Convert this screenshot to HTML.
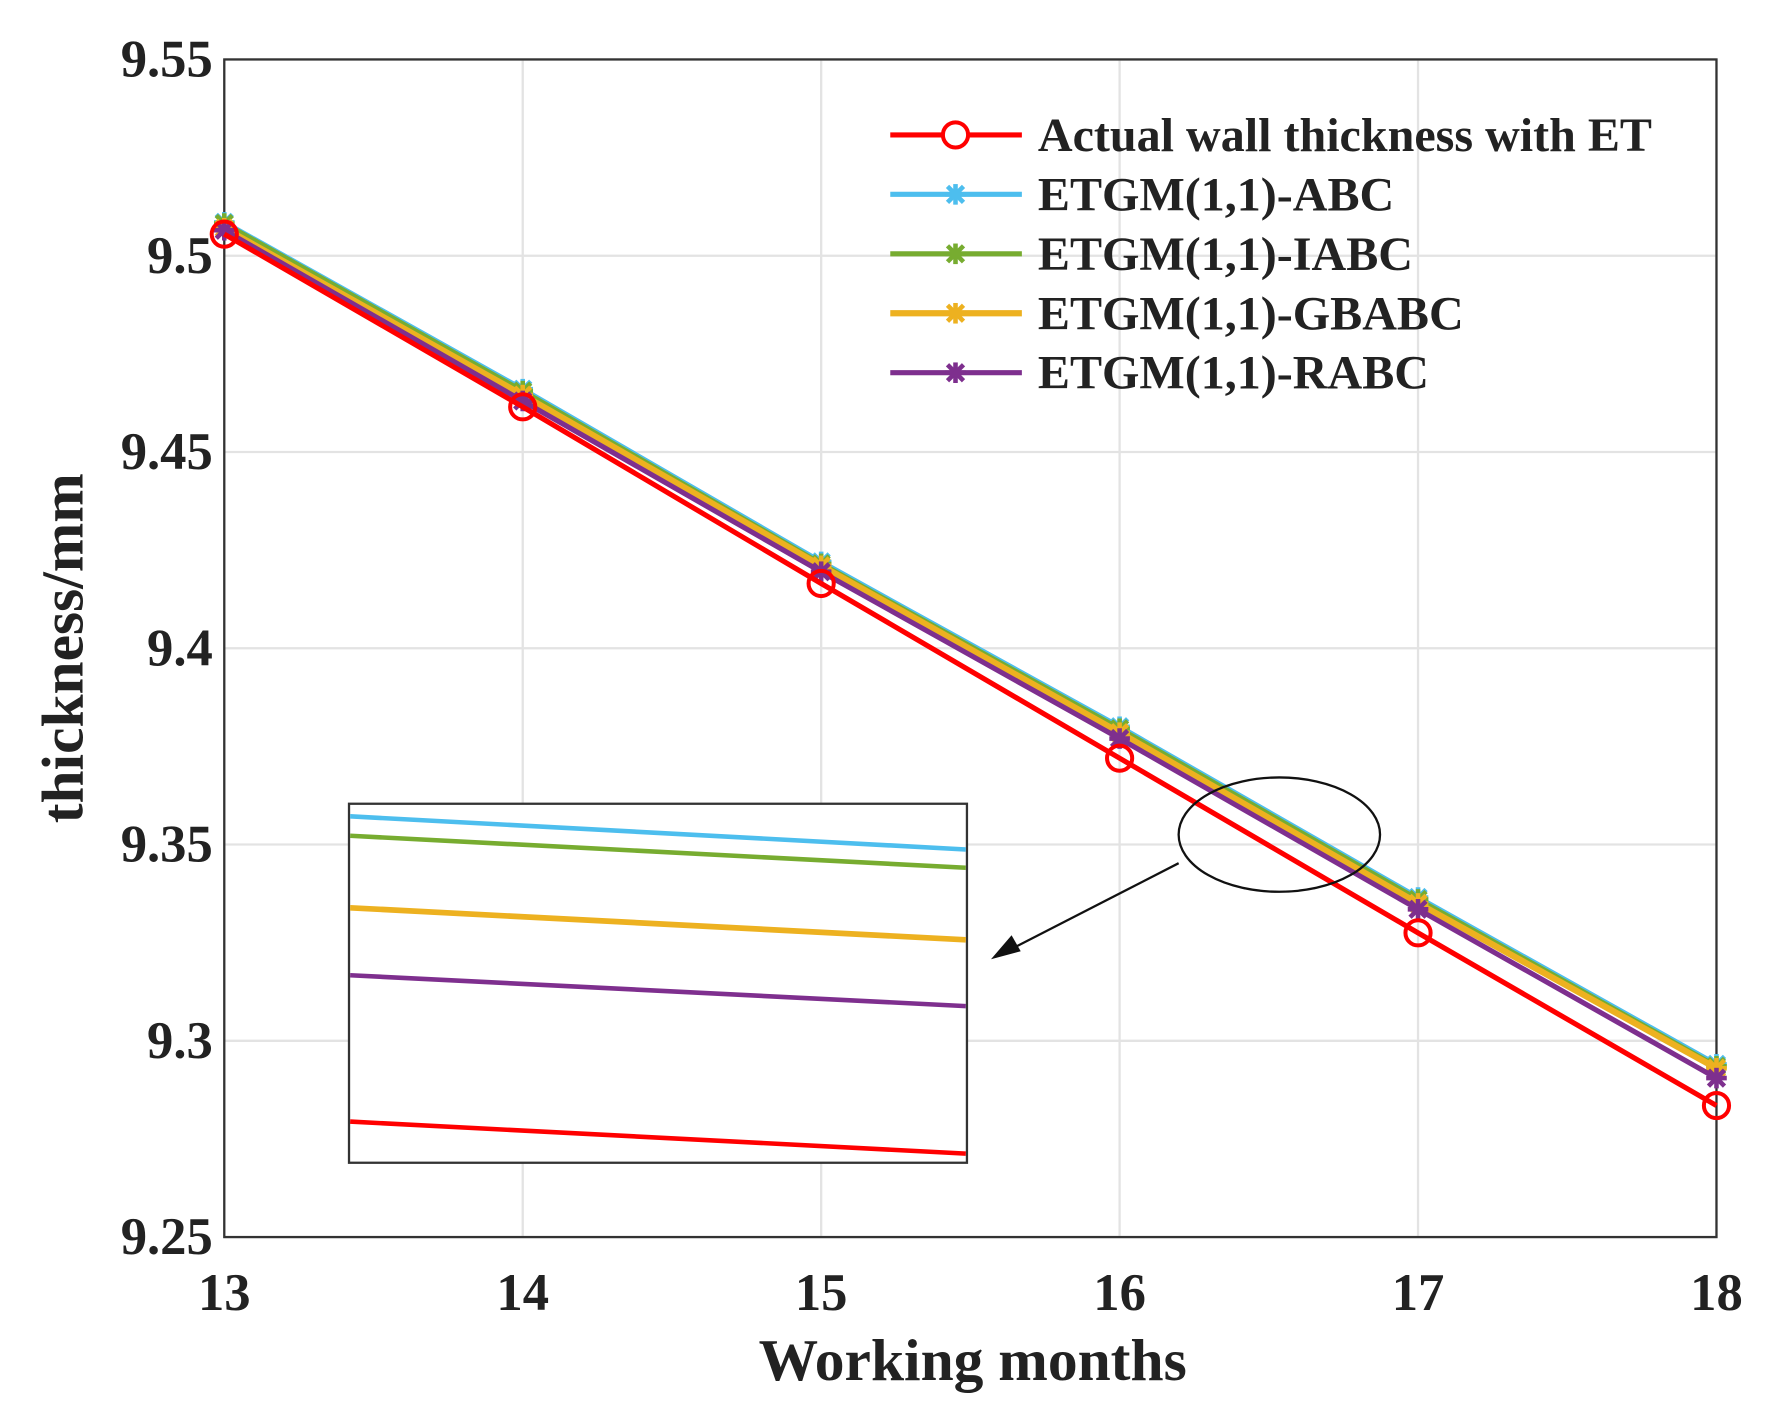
<!DOCTYPE html>
<html><head><meta charset="utf-8"><style>
html,body{margin:0;padding:0;background:#fff;width:1792px;height:1420px;overflow:hidden}
svg{display:block}
text{font-family:"Liberation Serif",serif;font-weight:bold;fill:#222}
</style></head><body>
<svg id="chart" width="1792" height="1420" viewBox="0 0 1566 1242" preserveAspectRatio="none" xmlns="http://www.w3.org/2000/svg">
<g id="grid"></g>
<rect x="196" y="52" width="1304" height="1030" fill="none" stroke="#333" stroke-width="2"/>
<g id="ticks"></g>
<g id="series"></g>
<text x="850" y="1207" text-anchor="middle" font-size="52">Working months</text>
<text transform="translate(72,567) rotate(-90)" text-anchor="middle" font-size="52">thickness/mm</text>
<g id="inset">
<rect x="305" y="703" width="540" height="314" fill="#fff" stroke="#333" stroke-width="2"/>
<line x1="306" y1="714" x2="844" y2="743" stroke="#4dbeee" stroke-width="4"/>
<line x1="306" y1="731" x2="844" y2="759" stroke="#77ac30" stroke-width="4"/>
<line x1="306" y1="794" x2="844" y2="822" stroke="#edb120" stroke-width="5"/>
<line x1="306" y1="853" x2="844" y2="880" stroke="#7e2f8e" stroke-width="4"/>
<line x1="306" y1="981" x2="844" y2="1009" stroke="#ff0000" stroke-width="4"/>
<ellipse cx="1118" cy="730" rx="88" ry="50" fill="none" stroke="#111" stroke-width="2"/>
<line x1="1030" y1="755" x2="880" y2="832" stroke="#111" stroke-width="2"/>
<polygon points="866,839 884,818 892,832" fill="#111"/>
</g>
<g id="legend"></g>
</svg>
<script>
const months=[13,14,15,16,17,18];
const actual=[9.5055,9.4615,9.4165,9.372,9.3275,9.2835];
const abc=[9.5085,9.466,9.422,9.380,9.3365,9.294];
const iabc=[9.5082,9.4655,9.4215,9.3795,9.336,9.2935];
const gbabc=[9.507,9.4645,9.421,9.3785,9.335,9.293];
const rabc=[9.5065,9.463,9.4195,9.377,9.3335,9.2905];
const yTicks=[9.25,9.3,9.35,9.4,9.45,9.5,9.55];
const yTickLabels=["9.25","9.3","9.35","9.4","9.45","9.5","9.55"];
const seriesNames=["Actual wall thickness with ET","ETGM(1,1)-ABC","ETGM(1,1)-IABC","ETGM(1,1)-GBABC","ETGM(1,1)-RABC"];
const NS="http://www.w3.org/2000/svg";
const X=v=>196+(v-13)/5*1304;
const Y=v=>1082-(v-9.25)/0.3*1030;
function mk(tag,attrs,parent){const e=document.createElementNS(NS,tag);for(const k in attrs)e.setAttribute(k,attrs[k]);parent.appendChild(e);return e;}
const grid=document.getElementById('grid'),ticks=document.getElementById('ticks'),ser=document.getElementById('series'),leg=document.getElementById('legend');
months.forEach(m=>{
 const g=mk('line',{x1:X(m),x2:X(m),y1:52,y2:1082,stroke:'#e3e3e3','stroke-width':2},grid);
 
 
 const t=mk('text',{x:X(m),y:1146,'text-anchor':'middle','font-size':46},ticks);t.textContent=m;
 
 
});
yTicks.forEach((v,i)=>{
 const g=mk('line',{x1:196,x2:1500,y1:Y(v),y2:Y(v),stroke:'#e3e3e3','stroke-width':2},grid);
 
 
 const t=mk('text',{x:186,y:Y(v)+15,'text-anchor':'end','font-size':46},ticks);t.textContent=yTickLabels[i];
 
 
});
function star(x,y,c,p){
 const g=mk('g',{stroke:c,'stroke-width':4},p);
 [[-9,0,9,0],[0,-9,0,9],[-7,-7,7,7],[-7,7,7,-7]].forEach(a=>mk('line',{x1:x+a[0],y1:y+a[1],x2:x+a[2],y2:y+a[3]},g));
 return g;
}
const defs=[[actual,'#ff0000','circle','actual'],[abc,'#4dbeee','star','abc'],[iabc,'#77ac30','star','iabc'],[gbabc,'#edb120','star','gbabc'],[rabc,'#7e2f8e','star','rabc']];
const order=[1,2,3,4,0];
order.forEach(i=>{
 const [d,c,m,n]=defs[i];
 const g=mk('g',{},ser);
 
 
 mk('polyline',{points:d.map((v,j)=>X(months[j])+','+Y(v)).join(' '),fill:'none',stroke:c,'stroke-width':i==3?5.5:4.5},g);
 d.forEach((v,j)=>{
  let p;
  if(m==='circle')p=mk('circle',{cx:X(months[j]),cy:Y(v),r:11,fill:'none',stroke:c,'stroke-width':3.5},g);
  else p=star(X(months[j]),Y(v),c,g);
  
  
 });
});
defs.forEach((d,i)=>{
 const y=118+i*52;
 const g=mk('g',{},leg);
 
 
 mk('line',{x1:778,x2:893,y1:y,y2:y,stroke:d[1],'stroke-width':i==3?5.5:4.5},g);
 if(d[2]==='circle')mk('circle',{cx:835,cy:y,r:11,fill:'#fff',stroke:d[1],'stroke-width':3.5},g);
 else star(835,y,d[1],g);
 const t=mk('text',{x:907,y:y+14,'font-size':42},g);t.textContent=seriesNames[i];
});
</script>
</body></html>
